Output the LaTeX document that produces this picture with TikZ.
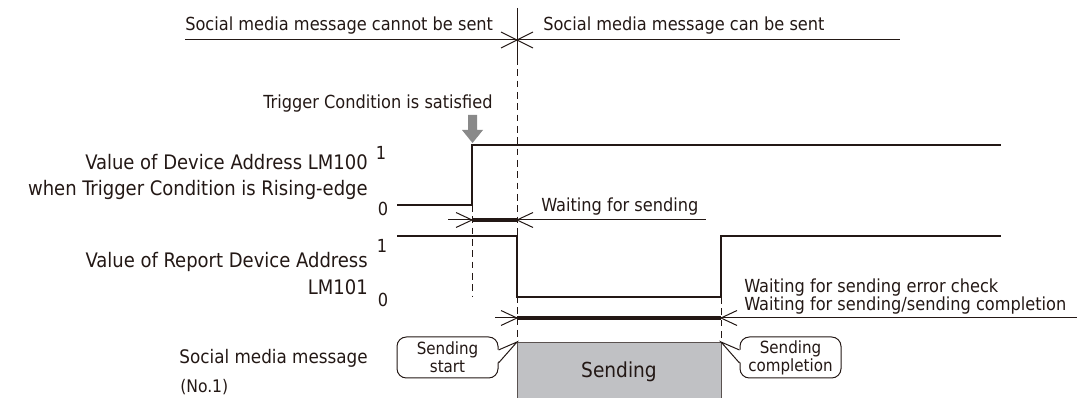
\documentclass[tikz,border=0pt]{standalone}
\usepackage{fontspec}
\setmainfont{DejaVu Sans Condensed}
\usetikzlibrary{calc}
\definecolor{ink}{RGB}{35,24,21}
\definecolor{arrowgray}{RGB}{137,137,137}
\definecolor{sendfill}{RGB}{192,193,196}
\begin{document}
\begin{tikzpicture}[x=0.75pt,y=-0.75pt,
  every node/.style={inner sep=0pt, text=ink},
  sig/.style={draw=ink, line width=1.7pt},
  thinl/.style={draw=ink, line width=0.75pt},
  dashln/.style={draw=ink, line width=0.75pt, dash pattern=on 5pt off 3.5pt},
  barln/.style={draw=ink, line width=3pt},
  txt/.style={font=\fontsize{13.5}{16}\selectfont},
  lbl/.style={font=\fontsize{15}{17}\selectfont, anchor=east},
  callout/.style={draw=ink, line width=0.75pt, fill=white, rounded corners=7pt,
    minimum width=75.75pt, minimum height=30.75pt, align=center,
    font=\fontsize{12.6}{13.5}\selectfont}]
\useasboundingbox (0,0) rectangle (1081,398);

% top region line
\coordinate (tl) at (185,40);
\coordinate (tr) at (900,40);
\coordinate (tx) at (517,40);
\coordinate (tvt) at (517,8);
\coordinate (tvb) at (517,58);
\draw[thinl] (tl) -- (tr);
\draw[thinl] (tvt) -- (tvb);
\draw[thinl] ($(tx)+(-16,-8)$) -- (tx) -- ($(tx)+(-16,8)$);
\draw[thinl] ($(tx)+(16,-8)$) -- (tx) -- ($(tx)+(16,8)$);
\node[txt, anchor=west] (tcannot) at (185,26) {Social media message cannot be sent};
\node[txt, anchor=west] (tcan) at (543,26) {Social media message can be sent};

% dashed guide lines
\coordinate (d1t) at (472,205);
\coordinate (d1b) at (472,297);
\coordinate (d2b) at (517,398);
\coordinate (d3t) at (721,297);
\coordinate (d3b) at (721,398);
\draw[dashln] (tvb) -- (d2b);
\draw[dashln] (d1t) -- (d1b);
\draw[dashln] (d3t) -- (d3b);

% trigger
\node[txt] (trig) at (378,104) {Trigger Condition is satisfied};
\fill[arrowgray] (468,115) -- (477,115) -- (477,130) -- (483,130) -- (472.5,143) -- (462,130) -- (468,130) -- cycle;

% LM100 signal
\coordinate (a0) at (397,205);
\coordinate (a1) at (472,205);
\coordinate (a2) at (472,145);
\coordinate (a3) at (1001,145);
\draw[sig] (a0) -- (a1) -- (a2) -- (a3);
\node[txt] (l100h) at (381,153) {1};
\node[txt] (l100l) at (383,209) {0};
\node[lbl] (lab1) at (368,162) {Value of Device Address LM100};
\node[lbl] (lab2) at (368,190) {when Trigger Condition is Rising-edge};

% waiting for sending
\coordinate (w1s) at (472,220);
\coordinate (w1e) at (517,220);
\draw[thinl] (448,220) -- (706,220);
\draw[barln] (w1s) -- (w1e);
\draw[thinl] ($(w1s)+(-16,-7.5)$) -- (w1s) -- ($(w1s)+(-16,7.5)$);
\draw[thinl] ($(w1e)+(16,-7.5)$) -- (w1e) -- ($(w1e)+(16,7.5)$);
\node[txt, anchor=west] (wfs) at (541,207) {Waiting for sending};

% LM101 signal
\coordinate (b0) at (397,236);
\coordinate (b1) at (517,236);
\coordinate (b2) at (517,297);
\coordinate (b3) at (721,297);
\coordinate (b4) at (721,236);
\coordinate (b5) at (1001,236);
\draw[sig] (b0) -- (b1) -- (b2) -- (b3) -- (b4) -- (b5);
\node[txt] (l101h) at (382,246) {1};
\node[txt] (l101l) at (383,300) {0};
\node[lbl] (lab3) at (368,262) {Value of Report Device Address};
\node[lbl] (lab4) at (368,287) {LM101};

% waiting for sending / completion
\coordinate (w2s) at (517,318);
\coordinate (w2e) at (721,318);
\draw[thinl] (495,318) -- (1077,318);
\draw[barln] (w2s) -- (w2e);
\draw[thinl] ($(w2s)+(-16,-7.5)$) -- (w2s) -- ($(w2s)+(-16,7.5)$);
\draw[thinl] ($(w2e)+(16,-7.5)$) -- (w2e) -- ($(w2e)+(16,7.5)$);
\node[txt, anchor=west] (wec) at (744,288) {Waiting for sending error check};
\node[txt, anchor=west] (wsc) at (744,306) {Waiting for sending/sending completion};

% sending box
\coordinate (sb1) at (517,342);
\coordinate (sb2) at (721,342);
\filldraw[fill=sendfill, draw=ink!75, line width=0.7pt] (sb1) rectangle (721,404);
\node[font=\fontsize{15.5}{17}\selectfont] (sending) at (619,372) {Sending};

% social media label
\node[lbl, font=\fontsize{14}{16}\selectfont] (lab5) at (368,358) {Social media message};
\node[anchor=west, font=\fontsize{13}{15}\selectfont] (lab6) at (180,387) {(No.1)};

% callouts
\node[callout] (cs) at (447.5,357.5) {Sending\\start};
\node[callout] (cc) at (790.5,357.5) {Sending\\completion};
\fill[white] ($(cs.east)+(-1.5,-7.5)$) -- (sb1) -- ($(cs.east)+(-1.5,5.5)$) -- cycle;
\draw[thinl] ($(cs.east)+(0,-7.5)$) -- (sb1) -- ($(cs.east)+(0,5.5)$);
\fill[white] ($(cc.west)+(1.5,-7.5)$) -- (sb2) -- ($(cc.west)+(1.5,5.5)$) -- cycle;
\draw[thinl] ($(cc.west)+(0,-7.5)$) -- (sb2) -- ($(cc.west)+(0,5.5)$);
\end{tikzpicture}
\end{document}
